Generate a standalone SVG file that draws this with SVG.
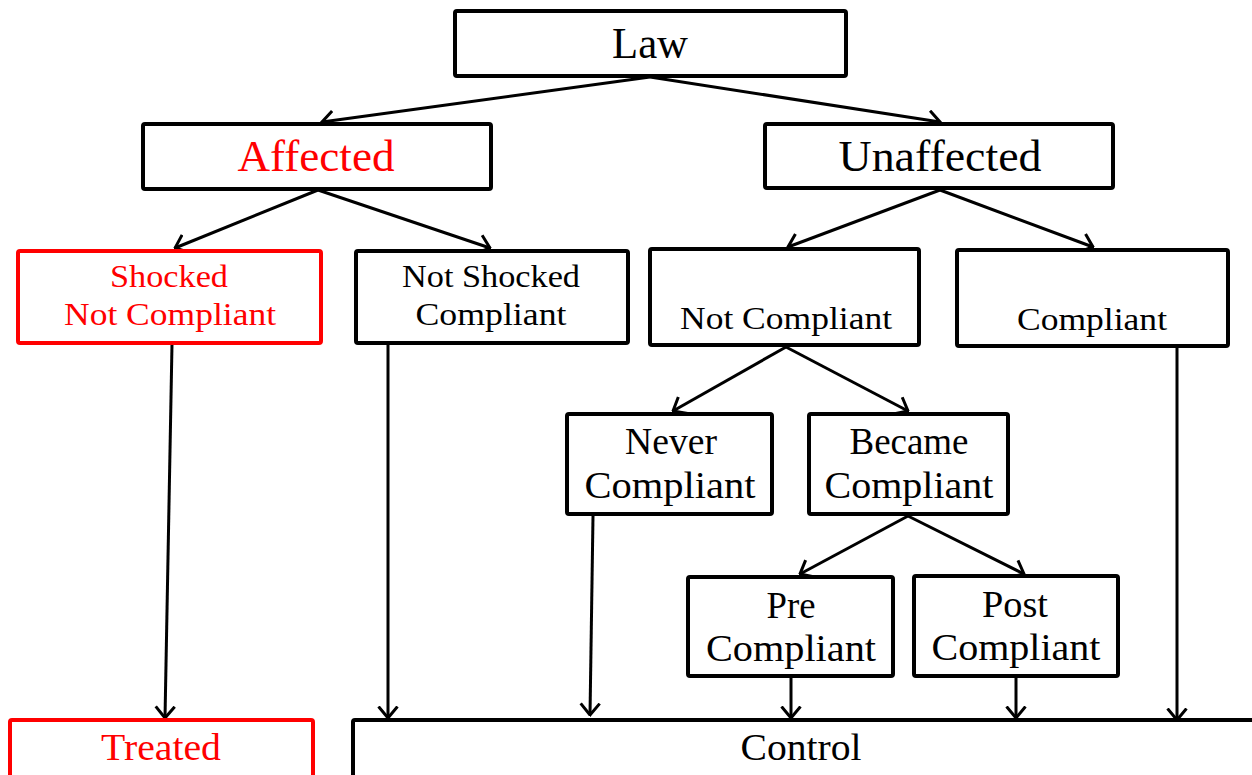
<svg xmlns="http://www.w3.org/2000/svg" width="1252" height="775" viewBox="0 0 1252 775">
<style>
.box{fill:#fff;stroke:#000;stroke-width:4}
.red{stroke:#ff0000}
text{font-family:"Liberation Serif","Times New Roman",serif;text-anchor:middle;fill:#000}
.rt{fill:#ff0000}
.big{font-size:44px}
.med{font-size:37px}
.sm{font-size:32px}
.conn line{stroke:#000;stroke-width:3;marker-end:url(#ah)}
</style>
<defs>
<marker id="ah" markerUnits="userSpaceOnUse" viewBox="0 0 14 22" refX="12.5" refY="11" markerWidth="14" markerHeight="22" orient="auto">
<path d="M1,1.5 L12.5,11 L1,20.5" fill="none" stroke="#000" stroke-width="3" stroke-linejoin="miter"/>
</marker>
</defs>
<rect width="1252" height="775" fill="#fff"/>
<g class="conn">
<line x1="650" y1="77" x2="322" y2="122"/>
<line x1="650" y1="77" x2="940" y2="122"/>
<line x1="318" y1="190" x2="175" y2="248"/>
<line x1="318" y1="190" x2="490" y2="248"/>
<line x1="940" y1="190" x2="788" y2="247"/>
<line x1="940" y1="190" x2="1093" y2="247"/>
<line x1="786" y1="347" x2="673" y2="411"/>
<line x1="786" y1="347" x2="908" y2="411"/>
<line x1="908" y1="516" x2="800" y2="574"/>
<line x1="908" y1="516" x2="1024" y2="574"/>
<line x1="172" y1="344" x2="165" y2="718"/>
<line x1="388" y1="344" x2="388" y2="718"/>
<line x1="593" y1="516" x2="590" y2="715"/>
<line x1="791" y1="678" x2="791" y2="718"/>
<line x1="1016" y1="678" x2="1016" y2="718"/>
<line x1="1177" y1="348" x2="1177" y2="720"/>
</g>
<g id="law"><rect class="box" x="455" y="11" width="391" height="65" rx="2"/><text class="big" x="650" y="58" textLength="76" lengthAdjust="spacingAndGlyphs">Law</text></g>
<g id="affected"><rect class="box" x="143" y="124" width="348" height="65" rx="2"/><text class="big rt" x="316" y="171" textLength="157" lengthAdjust="spacingAndGlyphs">Affected</text></g>
<g id="unaffected"><rect class="box" x="765" y="124" width="348" height="64" rx="2"/><text class="big" x="940" y="171" textLength="203" lengthAdjust="spacingAndGlyphs">Unaffected</text></g>
<g id="shocked"><rect class="box red" x="18" y="251" width="303" height="92" rx="2"/><text class="sm rt" x="169" y="287" textLength="118" lengthAdjust="spacingAndGlyphs">Shocked</text><text class="sm rt" x="170" y="325" textLength="212" lengthAdjust="spacingAndGlyphs">Not Compliant</text></g>
<g id="notshocked"><rect class="box" x="356" y="251" width="272" height="92" rx="2"/><text class="sm" x="491" y="287" textLength="178" lengthAdjust="spacingAndGlyphs">Not Shocked</text><text class="sm" x="491" y="325" textLength="151" lengthAdjust="spacingAndGlyphs">Compliant</text></g>
<g id="notcompliant"><rect class="box" x="650" y="249" width="269" height="96" rx="2"/><text class="sm" x="786" y="329" textLength="212" lengthAdjust="spacingAndGlyphs">Not Compliant</text></g>
<g id="compliant"><rect class="box" x="957" y="250" width="271" height="96" rx="2"/><text class="sm" x="1092" y="330" textLength="150" lengthAdjust="spacingAndGlyphs">Compliant</text></g>
<g id="never"><rect class="box" x="567" y="414" width="205" height="100" rx="2"/><text class="med" x="671" y="454" textLength="92" lengthAdjust="spacingAndGlyphs">Never</text><text class="med" x="670" y="498" textLength="171" lengthAdjust="spacingAndGlyphs">Compliant</text></g>
<g id="became"><rect class="box" x="809" y="414" width="199" height="100" rx="2"/><text class="med" x="909" y="454" textLength="119" lengthAdjust="spacingAndGlyphs">Became</text><text class="med" x="909" y="498" textLength="169" lengthAdjust="spacingAndGlyphs">Compliant</text></g>
<g id="pre"><rect class="box" x="688" y="577" width="205" height="99" rx="2"/><text class="med" x="791" y="618" textLength="49" lengthAdjust="spacingAndGlyphs">Pre</text><text class="med" x="791" y="661" textLength="170" lengthAdjust="spacingAndGlyphs">Compliant</text></g>
<g id="post"><rect class="box" x="914" y="576" width="204" height="100" rx="2"/><text class="med" x="1015" y="617" textLength="66" lengthAdjust="spacingAndGlyphs">Post</text><text class="med" x="1016" y="660" textLength="169" lengthAdjust="spacingAndGlyphs">Compliant</text></g>
<g id="treated"><rect class="box red" x="10" y="720" width="303" height="70" rx="2"/><text class="med rt" x="161" y="760" textLength="120" lengthAdjust="spacingAndGlyphs">Treated</text></g>
<g id="control"><rect class="box" x="353" y="720" width="910" height="70" rx="2"/><text class="med" x="801" y="760" textLength="121" lengthAdjust="spacingAndGlyphs">Control</text></g>
</svg>
